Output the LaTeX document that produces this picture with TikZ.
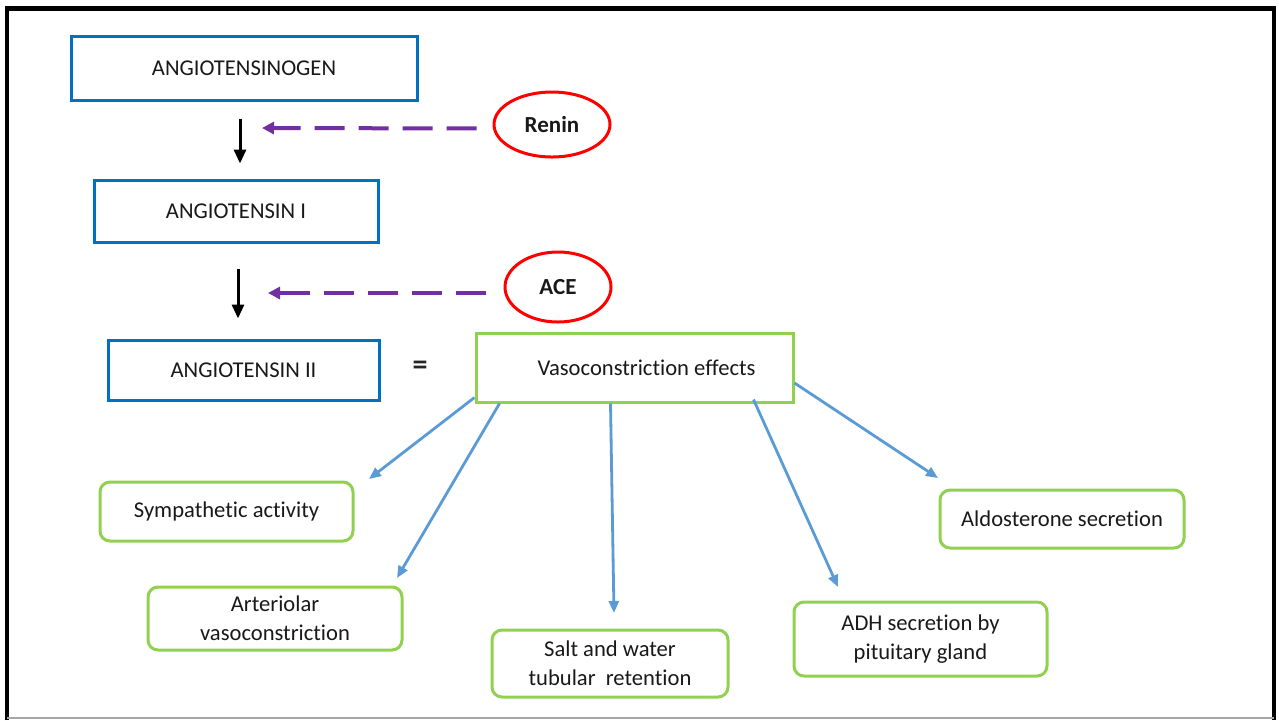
\documentclass[tikz,border=0pt]{standalone}
\usepackage{fontspec}
\setmainfont{Carlito}[Ligatures=NoCommon]
\usepackage{xcolor}
\usetikzlibrary{shapes.geometric, arrows.meta, positioning}
\definecolor{stageblue}{RGB}{0, 112, 192}
\definecolor{enzymered}{RGB}{255, 0, 0}
\definecolor{catalyst}{RGB}{112, 48, 160}
\definecolor{effectgreen}{RGB}{146, 208, 80}
\definecolor{effectarrow}{RGB}{91, 155, 213}

\begin{document}
\begin{tikzpicture}[
    x=0.5pt, y=-0.5pt,
    stage/.style={
        rectangle, draw=stageblue, line width=1.5pt,
        font=\fontsize{11.3}{14.5}\selectfont, text=black!90
    },
    enzyme/.style={
        ellipse, draw=enzymered, line width=1.5pt, inner sep=0pt,
        font=\fontsize{11.5}{14.5}\selectfont\bfseries, text=black!90
    },
    effect/.style={
        rectangle, rounded corners=5pt, draw=effectgreen, line width=1.5pt,
        align=center, font=\fontsize{11.3}{14.5}\selectfont, text=black!90
    },
    flow/.style={
        -{Triangle[length=7pt, width=6pt]}, line width=1.5pt, draw=black
    },
    cat/.style={
        -{Triangle[length=6pt, width=6pt]}, line width=2pt, draw=catalyst,
        dash pattern=on 15pt off 7pt
    },
    leads/.style={
        -{Triangle[length=6pt, width=5pt]}, line width=1.4pt, draw=effectarrow
    }
]
\useasboundingbox (0,0) rectangle (1279,720);

% Frame
\draw[line width=1.6pt] (7,720) -- (7,8) -- (1274,8) -- (1274,720);
\draw[line width=2.5pt] (5,8) -- (1276,8);
\draw[black!35, line width=1pt] (7,718) -- (1274,718);

% Cascade
\node[stage, minimum width=173pt, minimum height=32pt] (ago) at (244,68) {ANGIOTENSINOGEN};
\node[stage, minimum width=142pt, minimum height=31pt] (ang1) at (236,211) {ANGIOTENSIN I};
\node[stage, minimum width=135.5pt, minimum height=30pt] (ang2) at (243.5,370) {ANGIOTENSIN II};

% Enzymes
\node[enzyme, minimum width=58pt, minimum height=32.5pt] (renin) at (552,124.5) {Renin};
\node[enzyme, minimum width=53pt, minimum height=35pt] (ace) at (558,287) {ACE};
\coordinate (renintip) at (262,128);
\coordinate (acetip) at (268,293);

% Arrows
\draw[flow, shorten <=8.5pt, shorten >=7.5pt] ([xshift=-2pt]ago.south) -- ([xshift=2pt]ang1.north);
\draw[flow, shorten <=12.5pt, shorten >=10pt] ([xshift=1pt]ang1.south) -- ([xshift=-2.75pt]ang2.north);
\draw[cat, shorten <=8pt] ([yshift=-2pt]renin.west) -- (renintip);
\draw[cat, shorten <=9pt] ([yshift=-3pt]ace.west) -- (acetip);

% Effects
\node[font=\fontsize{15}{15}\selectfont\bfseries, text=black!85] (equals) at (420,368) {=};
\node[stage, draw=effectgreen, minimum width=158.5pt, minimum height=34.5pt] (vaso) at (634.5,367.5) {\hspace{12pt}Vasoconstriction effects};

\node[effect, minimum width=126.5pt, minimum height=29.5pt] (symp) at (226.5,511.5) {Sympathetic activity};
\node[effect, minimum width=127pt, minimum height=31.5pt] (art) at (275,618.5) {Arteriolar\\vasoconstriction};
\node[effect, minimum width=118pt, minimum height=33.5pt] (salt) at (610,663.5) {Salt and water\\tubular\ \ retention};
\node[effect, minimum width=126.5pt, minimum height=37pt] (adh) at (920.5,639) {ADH secretion by\\pituitary gland};
\node[effect, minimum width=122pt, minimum height=29pt] (ald) at (1062,519) {Aldosterone secretion};

\coordinate (symptip) at (369,479);
\coordinate (arttip) at (397,578);
\coordinate (salttip) at (614,613);
\coordinate (adhtip) at (838,587);
\coordinate (aldtip) at (938,478);

\draw[leads] ([yshift=3pt]vaso.south west) -- (symptip);
\draw[leads] ([xshift=12.5pt]vaso.south west) -- (arttip);
\draw[leads] ([xshift=-12pt]vaso.south) -- (salttip);
\draw[leads] ([xshift=-20.5pt, yshift=2pt]vaso.south east) -- (adhtip);
\draw[leads] ([yshift=-7.75pt]vaso.east) -- (aldtip);

\end{tikzpicture}
\end{document}
